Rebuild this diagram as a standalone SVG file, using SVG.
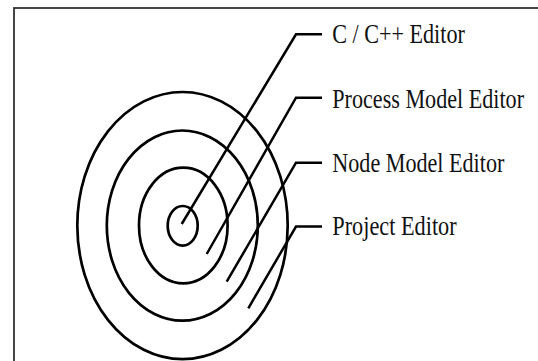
<svg xmlns="http://www.w3.org/2000/svg" width="538" height="361" viewBox="0 0 538 361">
<style>
.ring{fill:none;stroke:#000;stroke-width:2.7}
.con{fill:none;stroke:#000;stroke-width:2.5;stroke-linejoin:miter}
.lbl{font-family:"Liberation Serif","Times New Roman",serif;font-size:27px;fill:#111}
</style>
<rect x="0" y="0" width="538" height="361" fill="#fff"/>
<rect x="14" y="8" width="530" height="360" fill="#fff" stroke="#333" stroke-width="1.8"/>
<g id="project-ring"><ellipse class="ring" cx="182.5" cy="225.6" rx="105.2" ry="133.6"/></g>
<g id="node-ring"><ellipse class="ring" cx="182.3" cy="225.6" rx="75.5" ry="95.1"/></g>
<g id="process-ring"><ellipse class="ring" cx="183.3" cy="225.5" rx="44.3" ry="57.8"/></g>
<g id="cpp-ring"><ellipse class="ring" cx="182.7" cy="225.8" rx="15" ry="19.8"/></g>
<g id="connectors">
<polyline class="con" points="181.7,224 296,34.3 322,34.3"/>
<polyline class="con" points="206.7,254 296,97.7 322,97.7"/>
<polyline class="con" points="226.7,281.7 296,162.7 322,162.7"/>
<polyline class="con" points="248.3,308.3 296,226.5 322,226.5"/>
</g>
<g id="label-cpp" transform="translate(332.3,42.7) scale(0.82,1)"><text class="lbl" x="0" y="0">C / C++ Editor</text></g>
<g id="label-process" transform="translate(332.3,107.7) scale(0.82,1)"><text class="lbl" x="0" y="0">Process Model Editor</text></g>
<g id="label-node" transform="translate(332.3,171.7) scale(0.82,1)"><text class="lbl" x="0" y="0">Node Model Editor</text></g>
<g id="label-project" transform="translate(332.3,235) scale(0.825,1)"><text class="lbl" x="0" y="0">Project Editor</text></g>
</svg>
